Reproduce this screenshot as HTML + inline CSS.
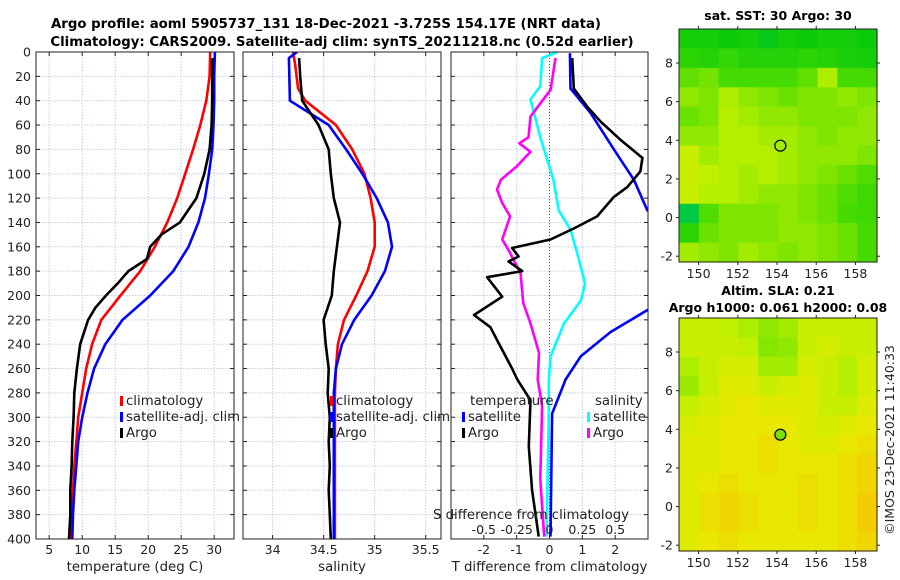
<!DOCTYPE html>
<html><head><meta charset="utf-8"><style>
html,body{margin:0;padding:0;background:#fff;width:900px;height:580px;overflow:hidden}
svg{font-family:"DejaVu Sans","Liberation Sans",sans-serif}
</style></head><body>
<svg id="fig" width="900" height="580" viewBox="0 0 900 580" xmlns="http://www.w3.org/2000/svg">
<text x="326" y="28" text-anchor="middle" font-weight="bold" font-size="13.3">Argo profile: aoml 5905737_131 18-Dec-2021 -3.725S 154.17E (NRT data)</text>
<text x="342" y="46" text-anchor="middle" font-weight="bold" font-size="13.3">Climatology: CARS2009. Satellite-adj clim: synTS_20211218.nc (0.52d earlier)</text>
<text x="778" y="20" text-anchor="middle" font-weight="bold" font-size="12.5">sat. SST: 30 Argo: 30</text>
<text x="778" y="295" text-anchor="middle" font-weight="bold" font-size="12.5">Altim. SLA: 0.21</text>
<text x="778" y="312" text-anchor="middle" font-weight="bold" font-size="12.5">Argo h1000: 0.061 h2000: 0.08</text>
<text transform="translate(894,440) rotate(-90)" text-anchor="middle" font-size="12.5" fill="#222">©IMOS 23-Dec-2021 11:40:33</text>
</svg>
<script>
const depths=[0,20,40,60,80,100,120,140,160,180,200,220,240,260,280,300,320,340,360,380,400];
const tClim=[29.4,29.3,28.8,27.9,26.8,25.6,24.4,22.9,21.0,18.8,15.8,12.9,11.5,10.6,10.0,9.4,9.1,8.8,8.6,8.5,8.3];
const tSat=[30.1,30.0,30.0,29.9,29.7,29.2,28.6,27.6,26.1,23.8,20.3,16.1,13.5,11.8,10.8,10.0,9.4,9.1,8.8,8.6,8.5];
const argoDepths=[5,20,40,60,80,100,120,140,150,160,170,180,190,200,210,220,240,260,280,300,320,340,360,380,400];
const tArgo=[29.7,29.7,29.7,29.6,29.3,28.5,27.3,24.8,22.0,20.3,19.8,17.0,15.4,13.6,12.0,10.9,9.7,9.2,8.8,8.7,8.5,8.4,8.2,8.2,8.0];
const sClimDepths=[0,10,30,40,60,80,100,120,140,160,180,200,220,240,260,280,300,340,400];
const sClim=[34.20,34.22,34.25,34.32,34.62,34.78,34.90,34.96,35.00,35.00,34.93,34.82,34.70,34.64,34.62,34.61,34.61,34.61,34.61];
const sSatDepths=[0,5,40,60,80,100,120,140,160,180,200,220,240,260,280,300,400];
const sSat=[34.24,34.16,34.17,34.55,34.72,34.88,35.02,35.13,35.17,35.10,34.97,34.80,34.68,34.62,34.60,34.60,34.60];
const sArgoDepths=[5,20,40,60,80,100,120,140,160,180,200,220,240,260,280,300,320,340,360,380,400];
const sArgo=[34.26,34.27,34.29,34.45,34.55,34.57,34.60,34.66,34.63,34.60,34.58,34.50,34.52,34.55,34.54,34.56,34.55,34.56,34.55,34.56,34.57];
const dTArgoDepths=[5,30,45,57,72,87,98,111,119,135,145,154,161,168,172,180,185,201,216,226,239,260,269,286,324,360,398];
const dTArgo=[0.69,0.74,1.15,1.55,2.16,2.83,2.77,2.37,1.96,1.45,0.74,0.03,-1.14,-0.94,-1.25,-0.83,-1.9,-1.44,-2.3,-1.8,-1.55,-1.14,-0.98,-0.58,-0.63,-0.53,-0.33];
const dTSatDepths=[1,30,50,80,105,130,160,180,200,212,230,250,269,297,398];
const dTSat=[0.62,0.64,1.25,1.96,2.57,2.98,5.1,5.0,4.5,2.98,1.86,0.95,0.49,0.08,0.03];
const dSSatDepths=[0,5,28,39,70,105,130,146,165,190,204,223,250,269,297,398];
const dSSat=[0.06,-0.056,-0.07,-0.145,-0.07,0.03,0.07,0.16,0.21,0.27,0.24,0.11,0.008,-0.005,-0.005,-0.023];
const dSArgoDepths=[5,31,53,70,75,82,94,105,113,124,135,154,163,182,206,223,247,269,291,351,398];
const dSArgo=[0.046,0.008,-0.145,-0.16,-0.23,-0.145,-0.25,-0.37,-0.4,-0.36,-0.3,-0.36,-0.31,-0.22,-0.2,-0.145,-0.08,-0.09,-0.056,-0.07,-0.04];
const depthTicks=[0,20,40,60,80,100,120,140,160,180,200,220,240,260,280,300,320,340,360,380,400];
const tTicks=[5,10,15,20,25,30];
const sTicks=[34,34.5,35,35.5];
const dTTicks=[-2,-1,0,1,2];
const dSTicks=[-0.5,-0.25,0,0.25,0.5];
const dSTickLabels=['-0.5','-0.25','0','0.25','0.5'];
const lonTicks=[150,152,154,156,158];
const latTicks=[8,6,4,2,0,-2];
const sstGrid=[
[0.51,0.51,0.50,0.51,0.49,0.51,0.50,0.51,0.51,0.50],
[0.54,0.53,0.55,0.53,0.53,0.53,0.54,0.53,0.52,0.51],
[0.60,0.62,0.57,0.57,0.57,0.57,0.60,0.68,0.57,0.57],
[0.65,0.63,0.68,0.65,0.63,0.61,0.63,0.63,0.65,0.63],
[0.61,0.63,0.69,0.67,0.65,0.65,0.63,0.63,0.63,0.65],
[0.65,0.65,0.69,0.69,0.67,0.67,0.65,0.63,0.65,0.65],
[0.72,0.67,0.69,0.69,0.69,0.67,0.65,0.65,0.65,0.63],
[0.72,0.70,0.69,0.67,0.69,0.67,0.65,0.63,0.61,0.58],
[0.72,0.69,0.69,0.67,0.65,0.65,0.63,0.61,0.58,0.56],
[0.46,0.58,0.63,0.63,0.63,0.65,0.63,0.61,0.57,0.56],
[0.54,0.61,0.63,0.63,0.63,0.65,0.65,0.63,0.61,0.57],
[0.67,0.65,0.63,0.67,0.65,0.63,0.65,0.63,0.61,0.57]];
const slaGrid=[
[0.72,0.72,0.70,0.68,0.65,0.67,0.72,0.72,0.72,0.72],
[0.72,0.72,0.72,0.70,0.64,0.65,0.72,0.74,0.72,0.72],
[0.68,0.71,0.74,0.74,0.67,0.67,0.74,0.72,0.69,0.74],
[0.66,0.71,0.76,0.76,0.72,0.74,0.76,0.72,0.69,0.74],
[0.71,0.74,0.77,0.78,0.76,0.76,0.76,0.72,0.71,0.76],
[0.74,0.76,0.78,0.78,0.78,0.78,0.76,0.74,0.76,0.78],
[0.76,0.76,0.78,0.78,0.80,0.78,0.76,0.76,0.78,0.80],
[0.76,0.76,0.78,0.78,0.80,0.78,0.78,0.78,0.80,0.82],
[0.76,0.78,0.80,0.78,0.78,0.78,0.80,0.78,0.80,0.82],
[0.76,0.80,0.82,0.80,0.78,0.78,0.80,0.78,0.80,0.84],
[0.76,0.80,0.82,0.80,0.78,0.78,0.80,0.78,0.80,0.84],
[0.76,0.78,0.80,0.78,0.78,0.78,0.78,0.78,0.80,0.82]];
const argoPos=[154.17,3.72];

const NS='http://www.w3.org/2000/svg';
const fig=document.getElementById('fig');
function mk(tag,attrs,parent){const e=document.createElementNS(NS,tag);for(const k in attrs)e.setAttribute(k,attrs[k]);(parent||fig).appendChild(e);return e;}
function txt(x,y,s,attrs,parent){const e=mk('text',Object.assign({x:x,y:y,'font-size':12.5,fill:'#222'},attrs||{}),parent);e.textContent=s;return e;}

const TOP=52,BOT=539;
const yD=d=>TOP+(d/400)*(BOT-TOP);
function lin(d0,d1,r0,r1){return v=>r0+(v-d0)/(d1-d0)*(r1-r0);}

const panels=[
 {name:'temperature',x0:36,x1:234,dom:[3,33],ticks:tTicks,labels:tTicks.map(String),xlabel:'temperature (deg C)',ylabels:true},
 {name:'salinity',x0:243,x1:441,dom:[33.71,35.65],ticks:sTicks,labels:sTicks.map(String),xlabel:'salinity'},
 {name:'difference',x0:451,x1:648,dom:[-3,3],ticks:dTTicks,labels:dTTicks.map(String),xlabel:'T difference from climatology'}
];
panels.forEach(p=>{
 const g=mk('g',{});
 
 
 p.xs=lin(p.dom[0],p.dom[1],p.x0,p.x1);
 const clip=mk('clipPath',{id:'clip-'+p.name},g);
 mk('rect',{x:p.x0,y:TOP,width:p.x1-p.x0,height:BOT-TOP},clip);
 p.g=g;
 depthTicks.forEach(d=>{
  const y=yD(d);
  const gl=mk('line',{x1:p.x0,x2:p.x1,y1:y,y2:y,stroke:'#c4cbe6','stroke-width':1,'stroke-dasharray':'1.5,1.5'},g);
  
  
 });
 p.ticks.forEach((t,i)=>{
  const x=p.xs(t);
  const gl=mk('line',{x1:x,x2:x,y1:TOP,y2:BOT,stroke:'#c4cbe6','stroke-width':1,'stroke-dasharray':'1.5,1.5'},g);
  
  
  mk('line',{x1:x,x2:x,y1:BOT,y2:BOT-4,stroke:'#222'},g);
  mk('line',{x1:x,x2:x,y1:TOP,y2:TOP+4,stroke:'#222'},g);
  const tl=txt(x,554,p.labels[i],{'text-anchor':'middle'},g);
  
  
 });
 depthTicks.forEach(d=>{
  const y=yD(d);
  mk('line',{x1:p.x0,x2:p.x0+4,y1:y,y2:y,stroke:'#222'},g);
  mk('line',{x1:p.x1,x2:p.x1-4,y1:y,y2:y,stroke:'#222'},g);
  if(p.ylabels){
   const tl=txt(31,y+4.5,String(d),{'text-anchor':'end'},g);
   
   
  }
 });
 const xl=txt((p.x0+p.x1)/2,571,p.xlabel,{'text-anchor':'middle','font-size':13.3},g);
 
 
});

function series(p,xs,ds,vals,color,name,width){
 const pts=vals.map((v,i)=>p.xs(xs?xs(v):v).toFixed(1)+','+yD(ds[i]).toFixed(1)).join(' ');
 const e=mk('polyline',{points:pts,fill:'none',stroke:color,'stroke-width':width||2.6,'stroke-linejoin':'round','clip-path':'url(#clip-'+p.name+')'},p.g);
 
 
}
const [P1,P2,P3]=panels;
series(P1,null,depths,tClim,'#ff0000','temp-climatology-line');
series(P1,null,depths,tSat,'#0000ff','temp-satellite-line');
series(P1,null,argoDepths,tArgo,'#000000','temp-argo-line');
series(P2,null,sClimDepths,sClim,'#ff0000','sal-climatology-line');
series(P2,null,sSatDepths,sSat,'#0000ff','sal-satellite-line');
series(P2,null,sArgoDepths,sArgo,'#000000','sal-argo-line');
const z=mk('line',{x1:P3.xs(0),x2:P3.xs(0),y1:TOP,y2:BOT,stroke:'#4a5a20','stroke-width':1,'stroke-dasharray':'1,2'},P3.g);


const sToT=s=>s*4;
series(P3,sToT,dSSatDepths,dSSat,'#00ffff','sal-diff-satellite-line');
series(P3,sToT,dSArgoDepths,dSArgo,'#ff00ff','sal-diff-argo-line');
series(P3,null,dTSatDepths,dTSat,'#0000ff','temp-diff-satellite-line');
series(P3,null,dTArgoDepths,dTArgo,'#000000','temp-diff-argo-line');
const st=txt(531,519,'S difference from climatology',{'text-anchor':'middle','font-size':13.3},P3.g);


dSTicks.forEach((s,i)=>{
 const l=txt(P3.xs(sToT(s)),534,dSTickLabels[i],{'text-anchor':'middle'},P3.g);
 
 
});
panels.forEach(p=>{
 const f=mk('rect',{x:p.x0,y:TOP,width:p.x1-p.x0,height:BOT-TOP,fill:'none',stroke:'#222','stroke-width':1},p.g);
 
 
});
function legend(x,y,color,label,g){
 const lg=mk('g',{},g);
 
 
 mk('rect',{x:x,y:y-9,width:3,height:10,fill:color},lg);
 txt(x+6,y,label,{'font-size':13.3},lg);
}
legend(120,405,'#ff0000','climatology',P1.g);
legend(120,421,'#0000ff','satellite-adj. clim',P1.g);
legend(120,437,'#000000','Argo',P1.g);
legend(330,405,'#ff0000','climatology',P2.g);
legend(330,421,'#0000ff','satellite-adj. clim',P2.g);
legend(330,437,'#000000','Argo',P2.g);
const lt=txt(470,405,'temperature',{'font-size':13.3},P3.g);
const ls=txt(595,405,'salinity',{'font-size':13.3},P3.g);
legend(462,421,'#0000ff','satellite',P3.g);
legend(462,437,'#000000','Argo',P3.g);
legend(587,421,'#00ffff','satellite',P3.g);
legend(587,437,'#ff00ff','Argo',P3.g);

const stops=[[0,[0,0,200]],[0.3,[0,200,255]],[0.45,[0,200,80]],[0.5,[10,204,10]],[0.6,[96,224,0]],[0.7,[192,240,0]],[0.78,[232,232,0]],[0.85,[245,200,0]],[1,[255,128,0]]];
function cmap(v){for(let i=1;i<stops.length;i++){if(v<=stops[i][0]){const a=stops[i-1],b=stops[i];const f=(v-a[0])/(b[0]-a[0]);return 'rgb('+a[1].map((c,k)=>Math.round(c+(b[1][k]-c)*f)).join(',')+')';}}return 'rgb(255,128,0)';}
const LON=[149,159.1],LAT=[9.76,-2.3];
function drawMap(name,y0,y1,grid,filled){
 const x0=679,x1=877;
 const g=mk('g',{});
 
 
 const xs=lin(LON[0],LON[1],x0,x1), ys=lin(LAT[0],LAT[1],y0,y1);
 const rows=grid.length,cols=grid[0].length;
 const lonStep=(LON[1]-LON[0])/cols, latStep=(LAT[0]-LAT[1])/rows;
 grid.forEach((row,r)=>row.forEach((v,c)=>{
  const lx=LON[0]+c*lonStep, ly=LAT[0]-r*latStep;
  const cx=xs(lx), cy=ys(ly);
  const cell=mk('rect',{x:cx.toFixed(2),y:cy.toFixed(2),width:(xs(lx+lonStep)-cx+0.6).toFixed(2),height:(ys(ly-latStep)-cy+0.6).toFixed(2),fill:cmap(v)},g);
  
  
 }));
 const mk2=mk('circle',{cx:xs(argoPos[0]),cy:ys(argoPos[1]),r:5.5,fill:filled?'#7ce000':'none',stroke:'#000','stroke-width':1.2},g);
 
 
 const fr=mk('rect',{x:x0,y:y0,width:x1-x0,height:y1-y0,fill:'none',stroke:'#222'},g);
 
 
 lonTicks.forEach(t=>{const x=xs(t);mk('line',{x1:x,x2:x,y1:y1,y2:y1+3,stroke:'#222'},g);mk('line',{x1:x,x2:x,y1:y0,y2:y0-3,stroke:'#222'},g);
  const l=txt(x,y1+16,String(t),{'text-anchor':'middle'},g);});
 latTicks.forEach(t=>{const y=ys(t);mk('line',{x1:x0,x2:x0-3,y1:y,y2:y,stroke:'#222'},g);mk('line',{x1:x1,x2:x1+3,y1:y,y2:y,stroke:'#222'},g);
  const l=txt(x0-6,y+4.5,String(t),{'text-anchor':'end'},g);});
}
drawMap('sst-map',29,262,sstGrid,false);
drawMap('sla-map',318,551,slaGrid,true);
</script>
</body></html>
